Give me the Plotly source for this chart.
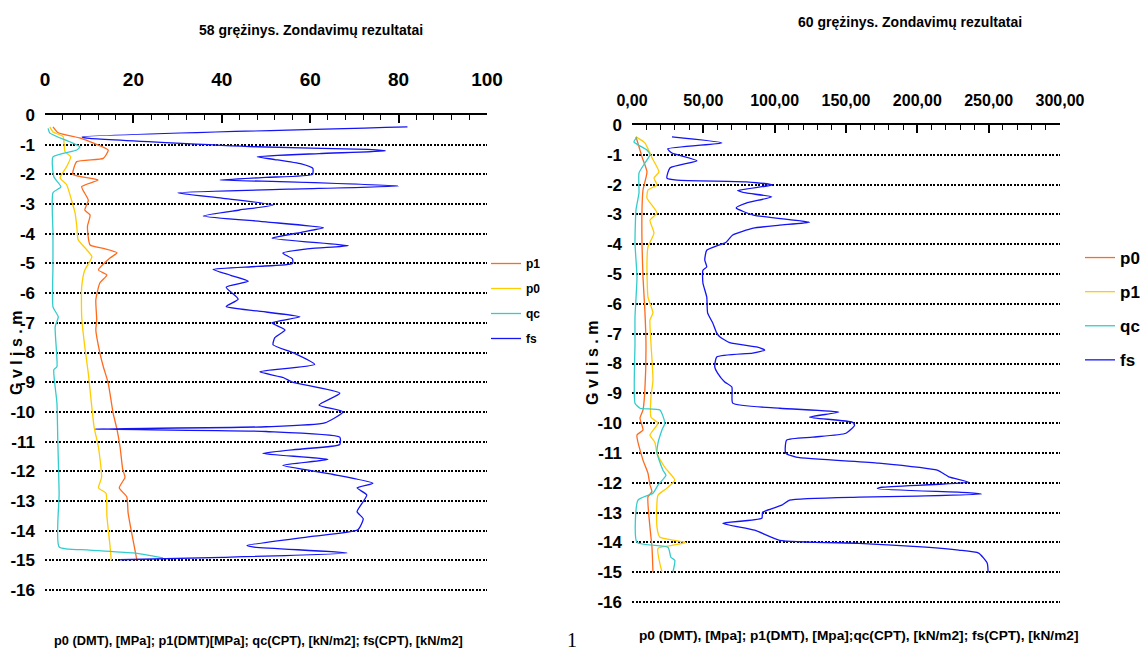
import plotly.graph_objects as go

# ---------------- data: borehole 58 ----------------
fs58_depth = [-0.40, -0.74, -0.78, -1.07, -1.16, -1.21, -1.30, -1.41, -1.50, -1.65, -1.80, -2.00, -2.10, -2.19,
              -2.25, -2.39, -2.50, -2.62, -2.80, -3.03, -3.20, -3.40, -3.60, -3.80, -3.95, -4.15, -4.40, -4.50,
              -4.65, -4.85, -5.00, -5.10, -5.20, -5.40, -5.60, -5.80, -6.20, -6.45, -6.60, -6.80, -7.00, -7.24,
              -7.50, -7.74, -8.00, -8.40, -8.65, -8.85, -9.00, -9.37, -9.77, -10.00, -10.37, -10.50, -10.58,
              -10.66, -10.85, -11.10, -11.25, -11.40, -11.60, -11.80, -12.10, -12.40, -12.56, -12.80, -13.36,
              -13.60, -13.97, -14.20, -14.50, -14.55, -14.75, -14.90, -14.98]
fs58 = [82, 8.4, 9.5, 48, 73, 77, 62, 48, 52, 58, 60.6, 60.5, 50, 39.6,
        55, 80, 55, 30, 40, 51.6, 44, 35.8, 50, 63, 58, 51.4, 68.6, 60,
        53.8, 56, 56, 48, 38, 42, 46, 41, 43.7, 41, 48, 57.7, 51.3, 54.3,
        52, 51.6, 56, 61, 48.6, 54, 56, 66.7, 62, 67.4, 63.3, 50, 11.3,
        50, 66.7, 66.7, 58, 49.3, 64, 53.8, 65, 74.2, 70.6, 72.8, 70.6,
        72, 70.8, 60, 45.7, 47, 68.3, 40, 17]

p1_58_depth = [-0.40, -0.60, -0.78, -0.95, -1.18, -1.46, -1.57, -2.00, -2.19, -2.41, -2.87, -3.20, -3.37, -3.76,
               -4.38, -4.49, -4.64, -4.82, -5.22, -5.39, -5.66, -6.23, -6.90, -7.24, -8.00, -8.48, -9.03, -10.03,
               -10.60, -11.20, -11.95, -12.20, -12.56, -12.86, -13.40, -14.07, -15.00]
p1_58 = [1.8, 3.0, 8.0, 11.0, 14.3, 13.2, 7.2, 6.3, 12.0, 8.3, 9.8, 9.0, 10.2, 9.6,
         10.2, 13.2, 16.3, 14.7, 12.1, 14.0, 12.4, 11.5, 11.7, 11.5, 12.4, 13.2, 14.3, 15.4,
         16.3, 17.0, 17.6, 18.1, 16.8, 18.5, 18.8, 19.6, 20.8]

p0_58_depth = [-0.40, -0.57, -0.73, -1.23, -1.41, -1.74, -2.12, -2.35, -2.87, -3.30, -3.76, -4.20, -4.77, -5.22,
               -5.79, -6.80, -7.81, -8.70, -10.50, -11.20, -12.20, -12.56, -12.74, -13.50, -14.50, -15.00]
p0_58 = [1.1, 1.8, 4.1, 4.5, 5.8, 4.9, 3.4, 4.9, 6.0, 6.8, 7.2, 7.5, 10.6, 9.0,
         8.3, 8.3, 9.0, 9.8, 11.1, 12.1, 12.8, 12.1, 13.8, 14.0, 14.7, 15.0]

qc58_depth = [-0.45, -0.61, -0.90, -1.07, -1.18, -1.41, -2.08, -2.42, -2.62, -3.97, -5.10, -6.46, -6.80, -7.13,
              -8.48, -8.58, -9.70, -11.00, -12.74, -14.55, -14.65, -14.75, -14.92]
qc58 = [0.7, 1.1, 5.6, 7.9, 7.2, 1.8, 2.0, 3.6, 1.8, 1.8, 1.8, 1.8, 3.0, 2.3,
        2.7, 2.0, 2.7, 2.9, 3.2, 3.2, 9.5, 20, 26.7]

# ---------------- data: borehole 60 ----------------
fs60_depth = [-0.40, -0.60, -0.80, -0.94, -1.20, -1.44, -1.78, -1.85, -1.91, -2.01, -2.20, -2.28, -2.41, -2.62,
              -2.78, -3.02, -3.26, -3.36, -3.46, -3.69, -3.93, -4.20, -4.53, -4.76, -4.87, -5.30, -5.77, -6.30,
              -6.64, -6.98, -7.10, -7.30, -7.45, -7.55, -7.65, -7.78, -8.12, -8.32, -8.62, -8.79, -9.33, -9.50,
              -9.63, -9.80, -9.97, -10.07, -10.34, -10.47, -10.57, -11.00, -11.14, -11.34, -11.58, -11.80,
              -11.98, -12.15, -12.20, -12.33, -12.38, -12.45, -12.48, -12.58, -12.75, -12.99, -13.19, -13.36,
              -13.59, -13.93, -14.03, -14.16, -14.26, -14.36, -14.70, -15.00]
fs60 = [28, 63, 25, 28, 45.5, 26.6, 24.5, 31.5, 80, 98.6, 74, 80, 98, 80,
        73, 85, 124.5, 103.5, 85, 70.6, 66, 52.4, 51, 52.4, 49.7, 49.7, 52.4, 53,
        56.6, 59.4, 61.5, 68.5, 88, 93, 84.6, 59.4, 58, 60, 65, 70, 70.6, 103.5,
        145, 124.5, 154.5, 156, 150, 126.6, 108.4, 107.7, 115, 173, 214, 222,
        236, 175, 172, 235, 245, 200, 159, 110.5, 105, 91.6, 91, 63.6,
        86, 103.5, 159, 206, 229, 243, 249, 249.6]

p0_60_depth = [-0.40, -0.73, -1.07, -1.57, -2.18, -2.85, -3.96, -5.10, -6.20, -7.32, -8.90, -9.56, -9.83, -10.23,
               -10.40, -11.24, -11.68, -12.08, -12.30, -12.47, -13.50, -14.16, -15.00]
p0_60 = [2.8, 4.9, 7.0, 10.5, 7.7, 7.0, 7.0, 7.7, 9.0, 9.8, 9.0, 7.7, 5.6, 7.7,
         3.5, 7.7, 11.2, 12.6, 14.0, 11.2, 12.6, 14.0, 14.7]

p1_60_depth = [-0.40, -0.60, -0.94, -1.10, -1.57, -1.78, -2.01, -2.18, -2.45, -2.95, -3.19, -3.62, -4.09, -4.63,
               -5.77, -6.30, -6.54, -7.32, -8.56, -9.12, -9.80, -10.00, -10.40, -10.64, -11.00, -11.48, -11.91,
               -12.18, -12.42, -13.49, -13.83, -14.00, -14.10, -14.20, -15.00]
p1_60 = [2.8, 9.0, 12.6, 14.0, 18.9, 15.4, 17.5, 11.2, 10.5, 17.5, 12.6, 15.4, 11.2, 10.5,
         11.2, 14.7, 12.6, 13.3, 14.7, 13.3, 13.3, 18.2, 12.6, 16.0, 17.5, 23.0, 30.0,
         24.5, 18.2, 17.5, 19.6, 37.8, 28.0, 18.2, 21.0]

qc60_depth = [-0.40, -0.57, -0.84, -1.00, -1.28, -1.61, -2.28, -2.85, -3.96, -5.10, -6.44, -7.32, -9.33, -9.50,
              -9.56, -10.00, -10.23, -10.67, -11.00, -11.58, -11.75, -12.08, -12.35, -12.58, -14.00, -14.16,
              -14.50, -14.60, -15.00]
qc60 = [3.5, 1.4, 10.5, 12.6, 9.0, 4.9, 4.9, 2.8, 2.1, 3.5, 2.1, 2.1, 2.1, 5.6,
        19.6, 23.0, 21.0, 18.2, 17.5, 21.7, 23.8, 18.2, 14.7, 4.2, 3.5, 25.2,
        27.3, 30.0, 28.7]

depth_ticks = [0, -1, -2, -3, -4, -5, -6, -7, -8, -9, -10, -11, -12, -13, -14, -15, -16]
depth_tick_text = ["0", "-1", "-2", "-3", "-4", "-5", "-6", "-7", "-8", "-9", "-10", "-11", "-12",
                   "-13", "-14", "-15", "-16"]

# ---------------- styling ----------------
W, H = 1142, 651
FONT = "Liberation Sans, Arial, sans-serif"
ORANGE = "#FF6A1C"
YELLOW = "#FFCC00"
CYAN = "#33CCCC"
BLUE = "#1414F5"


def px(xp):
    return xp / W


def py(yp):
    return 1 - yp / H


fig = go.Figure()

left = [("p1", p1_58, p1_58_depth, ORANGE), ("p0", p0_58, p0_58_depth, YELLOW),
        ("qc", qc58, qc58_depth, CYAN), ("fs", fs58, fs58_depth, BLUE)]
for name, xs, ys, col in left:
    fig.add_trace(go.Scatter(x=xs, y=ys, mode="lines", name=name,
                             line=dict(color=col, width=1.3, shape="spline", smoothing=0.5),
                             xaxis="x", yaxis="y", legend="legend", legendgroup="L" + name))

right = [("p0", p0_60, p0_60_depth, ORANGE), ("p1", p1_60, p1_60_depth, YELLOW),
         ("qc", qc60, qc60_depth, CYAN), ("fs", fs60, fs60_depth, BLUE)]
for name, xs, ys, col in right:
    fig.add_trace(go.Scatter(x=xs, y=ys, mode="lines", name=name,
                             line=dict(color=col, width=1.3, shape="spline", smoothing=0.5),
                             xaxis="x2", yaxis="y2", legend="legend2", legendgroup="R" + name))

xcommon = dict(side="top", showline=True, linecolor="black", linewidth=2, ticks="inside",
               ticklen=8, tickwidth=1.5, tickcolor="black", showgrid=False, zeroline=False,
               automargin=False, tickangle=0)
ycommon = dict(showline=False, ticks="", showgrid=True, gridcolor="black", gridwidth=2,
               griddash="2px,1.5px", zeroline=False, tickvals=depth_ticks, ticktext=depth_tick_text,
               range=[-16.1, 0], ticklabelstandoff=9, automargin=False,
               tickfont=dict(family=FONT, size=17, color="black", weight="bold"))

fig.update_layout(
    width=W, height=H, margin=dict(l=0, r=0, t=0, b=0, pad=0, autoexpand=False),
    paper_bgcolor="white", plot_bgcolor="white",
    separators=",.",
    showlegend=True,
    xaxis=dict(domain=[px(45), px(487)], range=[0, 100], tickvals=[0, 20, 40, 60, 80, 100],
               minor=dict(dtick=4, ticks="inside", ticklen=5, tickcolor="black", tickwidth=1.2),
               anchor="y", ticklabelstandoff=19,
               tickfont=dict(family=FONT, size=19, color="black", weight="bold"), **xcommon),
    yaxis=dict(domain=[py(593), py(115)], anchor="x", **ycommon),
    xaxis2=dict(domain=[px(632), px(1060)], range=[0, 300], tickvals=[0, 50, 100, 150, 200, 250, 300],
                tickformat=".2f",
                minor=dict(dtick=10, ticks="inside", ticklen=5, tickcolor="black", tickwidth=1.2),
                anchor="y2", ticklabelstandoff=11,
                tickfont=dict(family=FONT, size=16, color="black", weight="bold"), **xcommon),
    yaxis2=dict(domain=[py(605), py(125)], anchor="x2", **ycommon),
    legend=dict(x=px(486), y=py(249), xanchor="left", yanchor="top", bgcolor="rgba(0,0,0,0)",
                font=dict(family=FONT, size=12, color="black", weight="bold"), tracegroupgap=6,
                itemwidth=30),
    legend2=dict(x=px(1080), y=py(240), xanchor="left", yanchor="top", bgcolor="rgba(0,0,0,0)",
                 font=dict(family=FONT, size=17, color="black", weight="bold"), tracegroupgap=9,
                 itemwidth=30),
)

ann_font = dict(family=FONT, color="black", weight="bold")
common_ann = dict(xref="paper", yref="paper", showarrow=False, xanchor="center", yanchor="middle")
fig.add_annotation(text="58 grężinys. Zondavimų rezultatai", x=px(311), y=py(30),
                   font=dict(size=14, **ann_font), **common_ann)
fig.add_annotation(text="60 grężinys. Zondavimų rezultatai", x=px(910), y=py(22),
                   font=dict(size=14, **ann_font), **common_ann)
fig.add_annotation(text="p0 (DMT), [MPa]; p1(DMT)[MPa]; qc(CPT), [kN/m2]; fs(CPT), [kN/m2]",
                   x=px(258), y=py(640), font=dict(size=12.8, **ann_font), **common_ann)
fig.add_annotation(text="p0 (DMT), [Mpa]; p1(DMT), [Mpa];qc(CPT), [kN/m2]; fs(CPT), [kN/m2]",
                   x=px(858), y=py(635), font=dict(size=13.7, **ann_font), **common_ann)
fig.add_annotation(text="G v l i s . m", x=px(17), y=py(353), textangle=-90,
                   font=dict(size=16, **ann_font), **common_ann)
fig.add_annotation(text="G v l i s . m", x=px(592), y=py(363), textangle=-90,
                   font=dict(size=16, **ann_font), **common_ann)
fig.add_annotation(text="1", x=px(572), y=py(640),
                   font=dict(family="Liberation Serif, serif", size=20, color="black"), **common_ann)

fig.write_html("out.html")
